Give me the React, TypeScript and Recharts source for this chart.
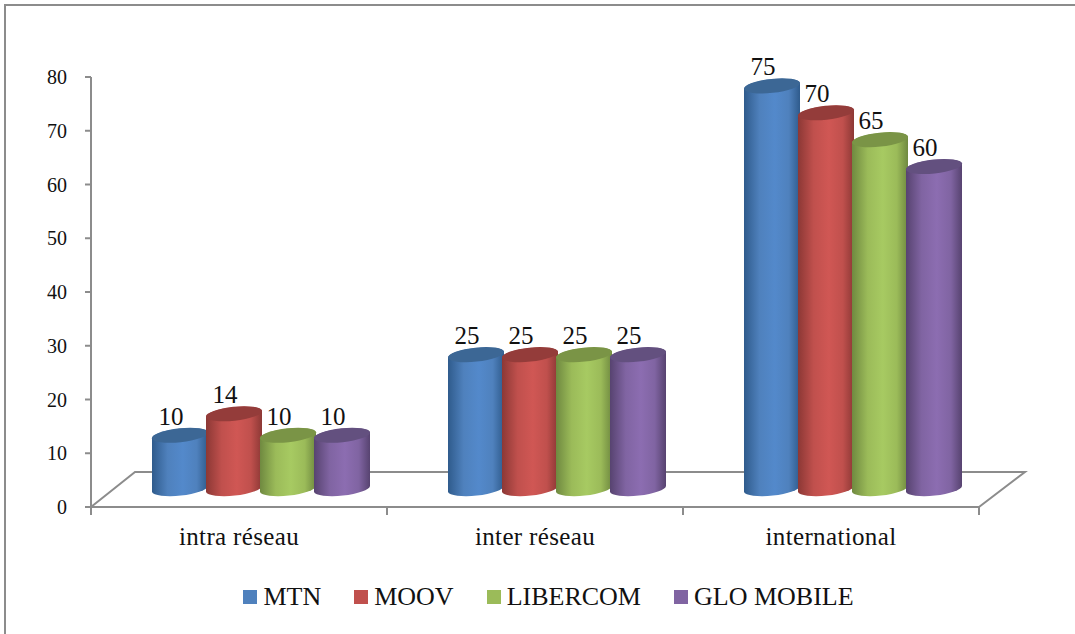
import React from "react";
import { BarChart, Bar, XAxis, YAxis, Legend, LabelList } from "recharts";

const categories = ["intra réseau", "inter réseau", "international"];
const seriesNames = ["MTN", "MOOV", "LIBERCOM", "GLO MOBILE"];
const mtnValues = [10, 25, 75];
const moovValues = [14, 25, 70];
const libercomValues = [10, 25, 65];
const gloValues = [10, 25, 60];
const yTicks = [0, 10, 20, 30, 40, 50, 60, 70, 80];

const seriesValues = [mtnValues, moovValues, libercomValues, gloValues];
const data = categories.map((label, i) => ({
  label,
  s0: seriesValues[0][i],
  s1: seriesValues[1][i],
  s2: seriesValues[2][i],
  s3: seriesValues[3][i],
}));

// edge, middle, top cap, legend swatch
const palette = [
  { edge: "#2f5b8c", mid: "#5389cb", top: "#3c6795", key: "#4f81bd" },
  { edge: "#8c3835", mid: "#d05754", top: "#943c3a", key: "#c0504d" },
  { edge: "#6f8940", mid: "#a7ca62", top: "#7a9446", key: "#9bbb59" },
  { edge: "#574370", mid: "#8c6db1", top: "#63507f", key: "#8064a2" },
];

const FONT = "'Liberation Serif', serif";
const AXIS = "#8c8c8c";
const WIDTH = 1075;
const HEIGHT = 634;
const PLOT_LEFT = 91;
const PLOT_RIGHT = 979;
const PLOT_TOP = 77;
const PLOT_BOTTOM = 507;
const BAND = (PLOT_RIGHT - PLOT_LEFT) / categories.length;

// the fake 3D: columns stand further back on the floor than the axis plane
const DEPTH_X = 22;
const DEPTH_Y = 18;
const FLOOR_X = 46;
const FLOOR_Y = 35;

const Cylinder = (props: any) => {
  const { x, y, width, height, index } = props;
  const c = palette[index];
  const left = x + DEPTH_X;
  const right = left + width;
  const tilt = 3;
  const rx = width / 2 + 0.2;
  const ry = 7;
  const top = y - DEPTH_Y;
  const base = y + height - DEPTH_Y;
  const body = `M${left},${top + tilt} A${rx},${ry} -6 0 1 ${right},${top - tilt} L${right},${base - tilt} A${rx},${ry} -6 0 1 ${left},${base + tilt} Z`;
  return (
    <g>
      <path d={body} fill={`url(#cyl-${index})`} />
      <ellipse
        cx={left + width / 2}
        cy={top}
        rx={rx}
        ry={ry}
        fill={c.top}
        transform={`rotate(-6 ${left + width / 2} ${top})`}
      />
    </g>
  );
};

const ValueLabel = (props: any) => {
  const { x, y, width, value } = props;
  return (
    <text
      x={x + DEPTH_X + width / 2 - 9}
      y={y - DEPTH_Y - 19}
      textAnchor="middle"
      dominantBaseline="central"
      fontFamily={FONT}
      fontSize={25}
      fill="#111"
    >
      {value}
    </text>
  );
};

const CategoryTick = (props: any) => {
  const { x, y, payload, index } = props;
  const lineTop = PLOT_BOTTOM;
  return (
    <g>
      <line x1={x - BAND / 2} x2={x - BAND / 2} y1={lineTop} y2={lineTop + 8} stroke={AXIS} strokeWidth={2} />
      {index === categories.length - 1 && (
        <line x1={x + BAND / 2} x2={x + BAND / 2} y1={lineTop} y2={lineTop + 8} stroke={AXIS} strokeWidth={2} />
      )}
      <text x={x} y={y + 30} textAnchor="middle" fontFamily={FONT} fontSize={25} letterSpacing={0.35} fill="#111">
        {payload.value}
      </text>
    </g>
  );
};

const LegendBlock = () => (
  <div
    style={{
      display: "flex",
      justifyContent: "center",
      gap: 33,
      fontFamily: FONT,
      fontSize: 26,
      color: "#111",
      lineHeight: "30px",
      paddingLeft: 22,
    }}
  >
    {seriesNames.map((name, i) => (
      <span key={name} style={{ display: "flex", alignItems: "center" }}>
        <span style={{ width: 14, height: 14, background: palette[i].key, marginRight: 6 }} />
        {name}
      </span>
    ))}
  </div>
);

export default function App() {
  return (
    <div style={{ position: "absolute", left: 0, top: 0, width: WIDTH, height: HEIGHT, background: "#fff" }}>
      <div
        style={{
          position: "absolute",
          left: 4,
          top: 4,
          right: 0,
          bottom: 0,
          borderTop: `2px solid ${AXIS}`,
          borderLeft: `2px solid ${AXIS}`,
        }}
      />
      <BarChart
        width={WIDTH}
        height={HEIGHT}
        data={data}
        barSize={56}
        barGap={-2}
        barCategoryGap={0}
        margin={{ top: PLOT_TOP, right: WIDTH - PLOT_RIGHT, left: PLOT_LEFT - 60, bottom: HEIGHT - PLOT_BOTTOM - 40 }}
        style={{ position: "absolute", left: 0, top: 0 }}
      >
        <defs>
          {palette.map((c, i) => (
            <linearGradient key={i} id={`cyl-${i}`} x1="0" y1="0" x2="1" y2="0">
              <stop offset="0%" stopColor={c.edge} />
              <stop offset="28%" stopColor={c.key} />
              <stop offset="55%" stopColor={c.mid} />
              <stop offset="80%" stopColor={c.key} />
              <stop offset="100%" stopColor={c.edge} />
            </linearGradient>
          ))}
        </defs>
        <path
          d={`M${PLOT_LEFT},${PLOT_BOTTOM} L${PLOT_LEFT + FLOOR_X - 2},${PLOT_BOTTOM - FLOOR_Y} L${PLOT_RIGHT + FLOOR_X},${PLOT_BOTTOM - FLOOR_Y} L${PLOT_RIGHT},${PLOT_BOTTOM}`}
          fill="none"
          stroke={AXIS}
          strokeWidth={2}
        />
        <XAxis
          dataKey="label"
          height={40}
          stroke={AXIS}
          strokeWidth={2}
          tickLine={false}
          tick={<CategoryTick />}
          interval={0}
        />
        <YAxis
          width={60}
          domain={[0, 80]}
          ticks={yTicks}
          interval={0}
          stroke={AXIS}
          strokeWidth={2}
          tickSize={6}
          tickMargin={18}
          tick={{ fontFamily: FONT, fontSize: 20, fill: "#111" }}
        />
        <Legend
          verticalAlign="middle"
          content={<LegendBlock />}
          wrapperStyle={{ position: "absolute", left: 0, top: 582, width: WIDTH }}
        />
        {seriesNames.map((name, i) => (
          <Bar
            key={name}
            dataKey={`s${i}`}
            name={name}
            fill={palette[i].key}
            shape={(p: any) => <Cylinder {...p} index={i} />}
            isAnimationActive={false}
          >
            <LabelList dataKey={`s${i}`} content={<ValueLabel />} />
          </Bar>
        ))}
      </BarChart>
    </div>
  );
}
